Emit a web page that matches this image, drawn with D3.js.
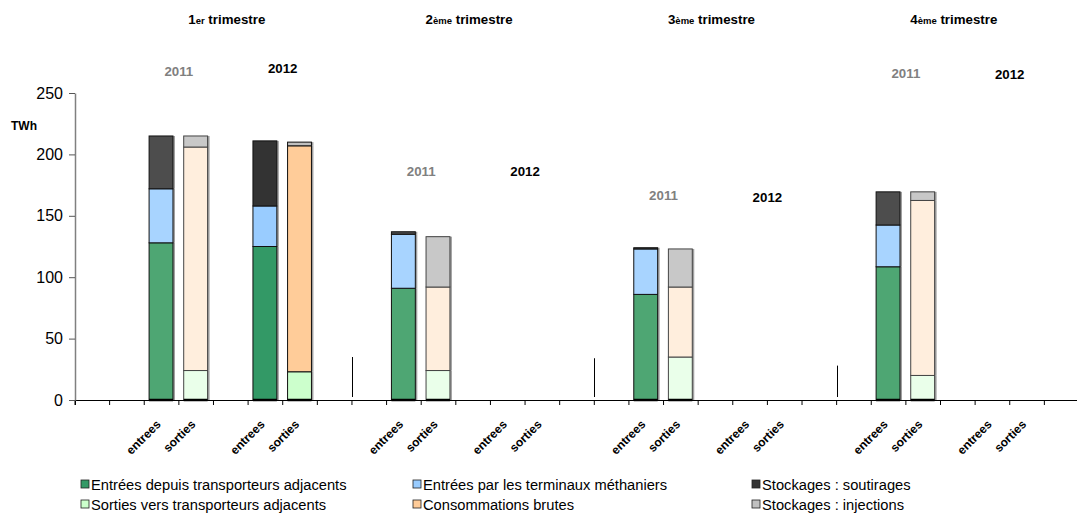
<!DOCTYPE html>
<html>
<head>
<meta charset="utf-8">
<script src="https://cdn.jsdelivr.net/npm/d3@7"></script>
<style>
  body { margin: 0; background: #fff; }
  svg { display: block; font-family: "Liberation Sans", Arial, sans-serif; }
</style>
</head>
<body>
<svg width="1077" height="515"></svg>
<script>
// quarters (title = number + small suffix)
const quarterNum = ['1', '2', '3', '4'];
const quarterSuffix = ['er', 'ème', 'ème', 'ème'];
const years = [2011, 2012];

// entrees stack: adjacent transporters, LNG terminals, storage withdrawals (TWh)
const entreesAdj2011 = [128, 91, 86, 108.5];
const terminaux2011 = [44, 44, 37, 34];
const soutirages2011 = [43, 2, 1, 27];
const entreesAdj2012 = [125];
const terminaux2012 = [33];
const soutirages2012 = [53];

// sorties stack: adjacent transporters, gross consumption, storage injections (TWh)
const sortiesAdj2011 = [24, 24, 35, 20];
const consommations2011 = [182, 68, 57, 142.5];
const injections2011 = [9, 41, 31, 7];
const sortiesAdj2012 = [23];
const consommations2012 = [184];
const injections2012 = [3];

// level (TWh) where the year captions sit in each quarter
const captionLevel2011 = [268, 186.5, 167, 266];
const captionLevel2012 = [270, 186.5, 165, 265.5];

// short marker lines between quarters (TWh)
const separatorLevel = [35, 34, 28];

const yTicks = [0, 50, 100, 150, 200, 250];

const legendLabels = [
  'Entrées depuis transporteurs adjacents', 'Entrées par les terminaux méthaniers', 'Stockages : soutirages',
  'Sorties vers transporteurs adjacents', 'Consommations brutes', 'Stockages : injections',
];

const colors = {
  e: { 2011: ['#4ea673', '#a8d4ff', '#4d4d4d'], 2012: ['#339966', '#99ccff', '#333333'] },
  s: { 2011: ['#eaffea', '#ffeedd', '#c8c8c8'], 2012: ['#ccffcc', '#ffcc99', '#c0c0c0'] },
};
const legendColors = ['#339966', '#99ccff', '#333333', '#ccffcc', '#ffcc99', '#c0c0c0'];

// one leading blank slot, then 7 slots per quarter
const slots = ['lead'];
quarterNum.forEach(function(q, i) {
  slots.push(i + '-b0', i + '-2011-e', i + '-2011-s', i + '-b1', i + '-2012-e', i + '-2012-s', i + '-b2');
});

// bar records
const bars = [];
function pushBars(year, ea, te, so, sa, co, inj) {
  ea.forEach(function(v, i) {
    bars.push({ slot: i + '-' + year + '-e', year: year, kind: 'e', s0: ea[i], s1: te[i], s2: so[i] });
    bars.push({ slot: i + '-' + year + '-s', year: year, kind: 's', s0: sa[i], s1: co[i], s2: inj[i] });
  });
}
pushBars(2011, entreesAdj2011, terminaux2011, soutirages2011, sortiesAdj2011, consommations2011, injections2011);
pushBars(2012, entreesAdj2012, terminaux2012, soutirages2012, sortiesAdj2012, consommations2012, injections2012);

const svg = d3.select('svg');
const step = 34.62;
const x = d3.scaleBand().domain(slots).range([75, 75 + slots.length * step]).padding(0);
const y = d3.scaleLinear().domain([0, 250]).range([400, 93]);

// https://github.com/d3/d3-shape#stacks
const series = d3.stack().keys(['s0', 's1', 's2'])(bars);
const barX = function(d) { return x(d.data.slot) + step * 0.14; };
const barW = step * 0.69;

const plot = svg.append('g');
series.forEach(function(layer, k) {
  // faint shadow on the right
  plot.append('g').selectAll('rect').data(layer).join('rect')
    .attr('x', function(d) { return barX(d) + 2; })
    .attr('y', function(d) { return y(d[1]); })
    .attr('width', barW)
    .attr('height', function(d) { return y(d[0]) - y(d[1]); })
    .attr('fill', '#a0a0a0');
});
series.forEach(function(layer, k) {
  plot.append('g').selectAll('rect').data(layer).join('rect')
    .attr('x', barX)
    .attr('y', function(d) { return y(d[1]); })
    .attr('width', barW)
    .attr('height', function(d) { return y(d[0]) - y(d[1]); })
    .attr('fill', function(d) { return colors[d.data.kind][d.data.year][k]; })
    .attr('stroke', function(d) { return d.data.year === 2011 && d.data.kind === 's' ? '#444' : '#111'; })
    .attr('stroke-width', 1);
});

// separators between quarters
svg.append('g').selectAll('line').data(separatorLevel).join('line')
  .attr('x1', function(d, i) { return Math.round(x((i + 1) + '-b0')) + 0.5; })
  .attr('x2', function(d, i) { return Math.round(x((i + 1) + '-b0')) + 0.5; })
  .attr('y1', y(0) - 3)
  .attr('y2', function(d) { return y(d); })
  .attr('stroke', '#000');

// x axis with ticks on slot boundaries
const xAxis = svg.append('g').attr('transform', 'translate(0,400)')
  .call(d3.axisBottom(x).tickSizeOuter(0).tickSize(5).tickFormat(function(s) {
    return /-e$/.test(s) ? 'entrees' : /-s$/.test(s) ? 'sorties' : '';
  }));
xAxis.select('.domain').attr('stroke', '#000');
xAxis.selectAll('.tick line').attr('x1', -step / 2).attr('x2', -step / 2).attr('stroke', '#000');
xAxis.selectAll('.tick text')
  .attr('font-size', 12).attr('font-weight', 'bold').attr('fill', '#000')
  .attr('text-anchor', 'end')
  .attr('transform', 'translate(0,25) rotate(-45)')
  .attr('y', 0).attr('dy', 0);

// thick bar bottoms
plot.append('g').selectAll('line').data(bars).join('line')
  .attr('x1', function(d) { return x(d.slot) + step * 0.14; })
  .attr('x2', function(d) { return x(d.slot) + step * 0.14 + barW; })
  .attr('y1', y(0)).attr('y2', y(0))
  .attr('stroke', '#000').attr('stroke-width', 2.5);

// y axis
const yAxis = svg.append('g').attr('transform', 'translate(75,0)')
  .call(d3.axisLeft(y).tickValues(yTicks).tickSize(6).tickPadding(6).tickSizeOuter(0));
yAxis.select('.domain').attr('stroke', '#808080').attr('stroke-width', 1.5);
yAxis.selectAll('.tick line').attr('stroke', '#555');
yAxis.selectAll('.tick text').attr('font-size', 16).attr('fill', '#000');

svg.append('text').attr('x', 11).attr('y', 130)
  .attr('font-size', 12).attr('font-weight', 'bold').text('TWh');

// quarter titles
const titles = svg.append('g').selectAll('text').data(quarterNum).join('text')
  .attr('x', function(d, i) { return x(i + '-b1') + step / 2 - 4; })
  .attr('y', 24)
  .attr('text-anchor', 'middle')
  .attr('font-size', 13.3).attr('font-weight', 'bold');
titles.append('tspan').text(function(d) { return d; });
titles.append('tspan').attr('font-size', 9.5).text(function(d, i) { return quarterSuffix[i]; });
titles.append('tspan').text(' trimestre');

// year captions
years.forEach(function(year) {
  const levels = year === 2011 ? captionLevel2011 : captionLevel2012;
  svg.append('g').selectAll('text').data(levels).join('text')
    .attr('x', function(d, i) { return x(i + '-' + year + '-s'); })
    .attr('y', function(d) { return y(d); })
    .attr('dy', '0.35em')
    .attr('text-anchor', 'middle')
    .attr('font-size', 13.3).attr('font-weight', 'bold')
    .attr('fill', year === 2011 ? '#808080' : '#000')
    .text(year);
});

// legend, 3 columns x 2 rows
const legendCols = [81, 413, 752];
const legend = svg.append('g').selectAll('g').data(legendLabels).join('g')
  .attr('transform', function(d, i) {
    return 'translate(' + legendCols[i % 3] + ',' + (480 + Math.floor(i / 3) * 20) + ')';
  });
legend.append('rect')
  .attr('width', 8).attr('height', 8)
  .attr('fill', function(d, i) { return legendColors[i]; })
  .attr('stroke', '#222').attr('stroke-width', 0.8);
legend.append('text')
  .attr('x', 10).attr('y', 10)
  .attr('font-size', 14.7)
  .text(function(d) { return d; });
</script>
</body>
</html>
